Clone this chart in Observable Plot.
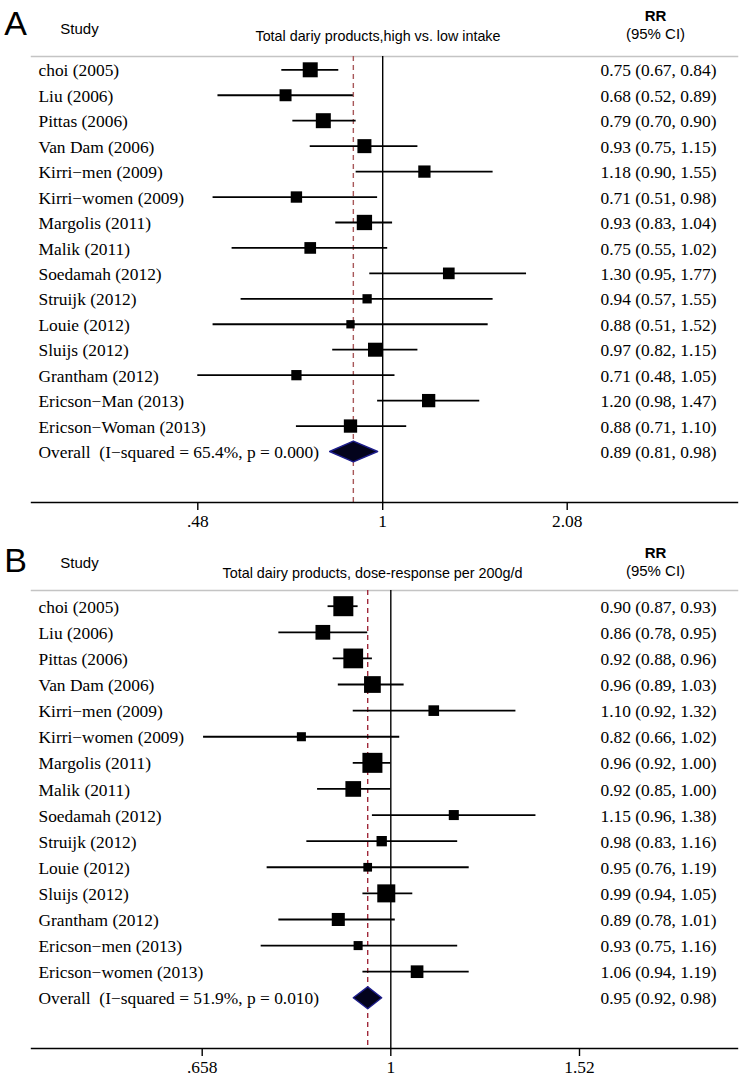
<!DOCTYPE html>
<html><head><meta charset="utf-8">
<script src="https://cdn.jsdelivr.net/npm/d3@7"></script>
<script src="https://cdn.jsdelivr.net/npm/@observablehq/plot@0.6"></script>
<style>
html,body{margin:0;padding:0;background:#fff;}
#chart{width:741px;}
#chart svg{display:block;font-family:'Liberation Serif','Times New Roman',serif !important;}
</style></head><body><div id="chart"></div>
<script>
// ---------- Panel A data ----------
const studiesA = ["choi (2005)", "Liu (2006)", "Pittas (2006)", "Van Dam (2006)", "Kirri−men (2009)", "Kirri−women (2009)", "Margolis (2011)", "Malik (2011)", "Soedamah (2012)", "Struijk (2012)", "Louie (2012)", "Sluijs (2012)", "Grantham (2012)", "Ericson−Man (2013)", "Ericson−Woman (2013)"];
const rrA = [0.75, 0.68, 0.79, 0.93, 1.18, 0.71, 0.93, 0.75, 1.30, 0.94, 0.88, 0.97, 0.71, 1.20, 0.88];
const loA = [0.67, 0.52, 0.70, 0.75, 0.90, 0.51, 0.83, 0.55, 0.95, 0.57, 0.51, 0.82, 0.48, 0.98, 0.71];
const hiA = [0.84, 0.89, 0.90, 1.15, 1.55, 0.98, 1.04, 1.02, 1.77, 1.55, 1.52, 1.15, 1.05, 1.47, 1.10];
const weightA = [9.4, 6.0, 9.4, 8.2, 6.3, 5.4, 9.8, 5.7, 5.7, 3.6, 2.9, 8.2, 4.4, 7.4, 7.4];
const overallA = [0.89, 0.81, 0.98];
const hetA = ["65.4%", "0.000"];
const ticksA = [0.48, 1, 2.08];
const tickLabelsA = [".48", "1", "2.08"];
const titleA = "Total dariy products,high vs. low intake";

// ---------- Panel B data ----------
const studiesB = ["choi (2005)", "Liu (2006)", "Pittas (2006)", "Van Dam (2006)", "Kirri−men (2009)", "Kirri−women (2009)", "Margolis (2011)", "Malik (2011)", "Soedamah (2012)", "Struijk (2012)", "Louie (2012)", "Sluijs (2012)", "Grantham (2012)", "Ericson−men (2013)", "Ericson−women (2013)"];
const rrB = [0.90, 0.86, 0.92, 0.96, 1.10, 0.82, 0.96, 0.92, 1.15, 0.98, 0.95, 0.99, 0.89, 0.93, 1.06];
const loB = [0.87, 0.78, 0.88, 0.89, 0.92, 0.66, 0.92, 0.85, 0.96, 0.83, 0.76, 0.94, 0.78, 0.75, 0.94];
const hiB = [0.93, 0.95, 0.96, 1.03, 1.32, 1.02, 1.00, 1.00, 1.38, 1.16, 1.19, 1.05, 1.01, 1.16, 1.19];
const weightB = [12.7, 6.9, 12.4, 8.9, 3.6, 2.6, 12.7, 7.8, 3.2, 3.4, 2.4, 10.3, 5.4, 2.6, 5.1];
const overallB = [0.95, 0.92, 0.98];
const hetB = ["51.9%", "0.010"];
const ticksB = [0.658, 1, 1.52];
const tickLabelsB = [".658", "1", "1.52"];
const titleB = "Total dairy products, dose-response per 200g/d";

const f2 = d3.format(".2f");
const SANS = "'Liberation Sans', Arial, sans-serif";
const SERIF = "'Liberation Serif', 'Times New Roman', serif";
const FS = 17.4;

function panel(cfg) {
  const n = cfg.studies.length;
  const rows = cfg.studies.map((s, i) => ({
    i, label: s, rr: cfg.rr[i], lo: cfg.lo[i], hi: cfg.hi[i], w: cfg.weight[i],
    ci: `${f2(cfg.rr[i])} (${f2(cfg.lo[i])}, ${f2(cfg.hi[i])})`
  }));
  const [orr, olo, ohi] = cfg.overall;
  const allRows = rows.concat([{
    i: n, label: `Overall  (I−squared = ${cfg.het[0]}, p = ${cfg.het[1]})`,
    ci: `${f2(orr)} (${f2(olo)}, ${f2(ohi)})`
  }]);
  const h = cfg.diamondHalf;
  const diamond = [
    {x: olo, y: n}, {x: orr, y: n - h}, {x: ohi, y: n}, {x: orr, y: n + h}
  ];
  const tickMap = new Map(cfg.ticks.map((t, k) => [t, cfg.tickLabels[k]]));
  const s = cfg.headShift;
  const head = (txt, o) => Plot.text([txt], Object.assign({frameAnchor: "top-left", fontFamily: SANS, fill: "#000"}, o));

  const svg = Plot.plot({
    width: 741,
    height: cfg.height,
    marginTop: cfg.marginTop,
    marginBottom: cfg.marginBottom,
    marginLeft: 31,
    marginRight: 4,
    style: {fontFamily: SERIF, fontSize: FS + "px", whiteSpace: "pre", overflow: "visible", background: "#fff", color: "#000"},
    x: {type: "log", domain: [cfg.ticks[0], cfg.ticks[2]], range: cfg.xRange, axis: null},
    y: {type: "linear", domain: [0, n], range: cfg.yRange, axis: null},
    r: {type: "sqrt", domain: [0, cfg.wMax], range: [0, cfg.rMax]},
    marks: [
      Plot.frame({anchor: "top", stroke: "#c4c4c4", strokeWidth: 1.5}),
      Plot.ruleX([1], {stroke: "#000", strokeWidth: 1.4}),
      Plot.ruleX([orr], {stroke: cfg.dash, strokeDasharray: "5,4", strokeWidth: 1.4}),
      Plot.ruleY(rows, {y: "i", x1: "lo", x2: "hi", stroke: "#000", strokeWidth: 1.8}),
      Plot.dot(rows, {x: "rr", y: "i", r: "w", symbol: "square", fill: "#000", stroke: "none"}),
      Plot.line(diamond, {x: "x", y: "y", curve: "linear-closed", fill: "#03031c", stroke: "#1e1e8c", strokeWidth: 1.4}),
      Plot.text(allRows, {y: "i", text: "label", frameAnchor: "left", dx: 7, dy: 1, textAnchor: "start", fill: "#000", fontFamily: SERIF, fontSize: FS}),
      Plot.text(allRows, {y: "i", text: "ci", frameAnchor: "right", dx: -79, dy: 1, textAnchor: "middle", fill: "#000", fontFamily: SERIF, fontSize: FS}),
      head(cfg.letter, {dx: -16, dy: -43 - s, fontSize: 34, textAnchor: "middle"}),
      head("Study", {dx: 48, dy: -33, fontSize: 15, textAnchor: "middle"}),
      head(cfg.title, {dx: cfg.titleDx, dy: -23 - s, fontSize: 14.5, textAnchor: "start"}),
      head("RR", {dx: 624, dy: -43 - s, fontSize: 15, fontWeight: "bold", textAnchor: "middle"}),
      head("(95% CI)", {dx: 624, dy: -25 - s, fontSize: 15, textAnchor: "middle"}),
      Plot.frame({anchor: "bottom", stroke: "#000", strokeWidth: 1.4}),
      Plot.axisX({ticks: cfg.ticks, tickFormat: d => tickMap.get(d), tickSize: 8, tickPadding: 4, strokeWidth: 1.4, fill: "#000", fontFamily: SERIF, fontSize: FS})
    ]
  });
  d3.select(svg).selectAll("text").filter(function() { return this.textContent === cfg.title; })
    .attr("textLength", cfg.titleLen).attr("lengthAdjust", "spacingAndGlyphs");
  return svg;
}

const chart = document.getElementById("chart");
chart.appendChild(panel({
  letter: "A", title: titleA, titleDx: 224, titleLen: 245, headShift: 3,
  studies: studiesA, rr: rrA, lo: loA, hi: hiA, weight: weightA,
  overall: overallA, het: hetA, ticks: ticksA, tickLabels: tickLabelsA,
  height: 530, marginTop: 56, marginBottom: 28,
  xRange: [197.3, 566.7], yRange: [69.3, 451],
  wMax: 10, rMax: 8.73, diamondHalf: 0.41, dash: "#a8585a"
}));
chart.appendChild(panel({
  letter: "B", title: titleB, titleDx: 191, titleLen: 300, headShift: 0,
  studies: studiesB, rr: rrB, lo: loB, hi: hiB, weight: weightB,
  overall: overallB, het: hetB, ticks: ticksB, tickLabels: tickLabelsB,
  height: 549, marginTop: 60, marginBottom: 31,
  xRange: [201.7, 579], yRange: [75.7, 467.3],
  wMax: 13, rMax: 11.42, diamondHalf: 0.42, dash: "#a0283a"
}));
</script></body></html>
